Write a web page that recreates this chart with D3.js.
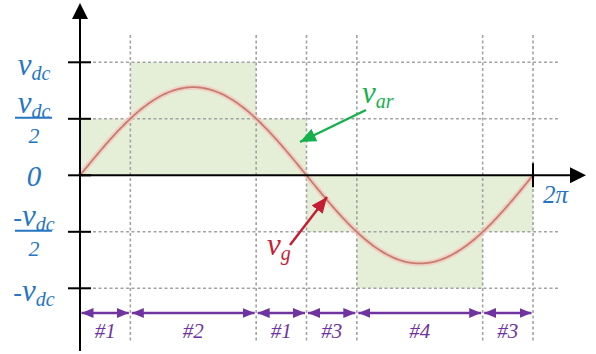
<!DOCTYPE html>
<html>
<head>
<meta charset="utf-8">
<script src="https://cdn.jsdelivr.net/npm/d3@7"></script>
<style>
  html, body { margin: 0; padding: 0; background: #fff; }
  svg { display: block; }
</style>
</head>
<body>
<svg id="chart" width="596" height="354"></svg>
<script>
// Voltage levels, in units of v_dc
const levels = [1, 0.5, 0, -0.5, -1];
// Level labels: sign, main symbol, subscript, denominator
const levelSign  = ["", "", "", "-", "-"];
const levelMain  = ["v", "v", "0", "v", "v"];
const levelSub   = ["dc", "dc", "", "dc", "dc"];
const levelDenom = ["", "2", "", "2", ""];

// Switching-interval boundaries (degrees of the grid period)
const boundaries = [0, 40, 140, 180, 220, 320, 360];
const intervalNames = ["#1", "#2", "#1", "#3", "#4", "#3"];
// Rectifier voltage v_ar held during each interval (units of v_dc)
const intervalLevels = [0.5, 1, 0.5, -0.5, -1, -0.5];

// Grid voltage v_g = A·sin θ, peak in units of v_dc
const vgPeak = 0.78;

const serif = "'Liberation Serif', 'Times New Roman', Times, serif";
const svg = d3.select("#chart")
  .attr("font-family", serif).attr("font-style", "italic");
const x = d3.scaleLinear().domain([0, 360]).range([80, 533]);
const y = d3.scaleLinear().domain([-1, 1]).range([288.3, 62.3]);

const blue = "#2576c2", green = "#16b14c", red = "#c41e34", purple = "#7034a0";

// shaded v_ar steps
svg.append("g").selectAll("rect")
  .data(intervalLevels)
  .join("rect")
  .attr("x", (d, i) => x(boundaries[i]))
  .attr("width", (d, i) => x(boundaries[i + 1]) - x(boundaries[i]))
  .attr("y", d => Math.min(y(d), y(0)))
  .attr("height", d => Math.abs(y(d) - y(0)))
  .attr("fill", "#e5eed6");

// dashed grid
const grid = svg.append("g").attr("stroke", "#a3a3a3").attr("stroke-width", 1.6)
  .attr("stroke-dasharray", "3,2.5").attr("fill", "none");
grid.selectAll("line.h")
  .data(levels.filter(d => d !== 0))
  .join("line").attr("class", "h")
  .attr("x1", x(0) + 2).attr("x2", 558)
  .attr("y1", d => y(d)).attr("y2", d => y(d));
grid.selectAll("line.v")
  .data(boundaries.slice(1))
  .join("line").attr("class", "v")
  .attr("x1", d => x(d)).attr("x2", d => x(d))
  .attr("y1", 35).attr("y2", 342);

// sine wave of the grid voltage
const theta = d3.range(0, 360.5, 1);
const sineLine = d3.line()
  .x(d => x(d))
  .y(d => y(vgPeak * Math.sin(d * Math.PI / 180)))
  .curve(d3.curveBasis);
svg.append("path").datum(theta).attr("d", sineLine)
  .attr("fill", "none").attr("stroke", "#f4c6be").attr("stroke-width", 5.5).attr("stroke-opacity", 0.75);
svg.append("path").datum(theta).attr("d", sineLine)
  .attr("fill", "none").attr("stroke", "#c67d70").attr("stroke-width", 1.8);

// axes
const axes = svg.append("g").attr("stroke", "#000");
axes.append("line").attr("x1", x(0)).attr("x2", 572).attr("y1", y(0)).attr("y2", y(0)).attr("stroke-width", 2);
axes.append("line").attr("x1", x(0)).attr("x2", x(0)).attr("y1", 351).attr("y2", 16).attr("stroke-width", 2);
svg.append("path")
  .attr("d", `M${586},${y(0)} L${570},${y(0) - 8} L${570},${y(0) + 8} Z`).attr("fill", "#000");
svg.append("path")
  .attr("d", `M${x(0)},3 L${x(0) - 8},19 L${x(0) + 8},19 Z`).attr("fill", "#000");
// y ticks
axes.selectAll("line.tick")
  .data(levels)
  .join("line").attr("class", "tick")
  .attr("x1", 68).attr("x2", 91)
  .attr("y1", d => y(d)).attr("y2", d => y(d))
  .attr("stroke-width", 2);
// 2π tick
axes.append("line").attr("x1", x(360)).attr("x2", x(360))
  .attr("y1", y(0) - 12).attr("y2", y(0) + 12).attr("stroke-width", 2);

// level labels
const lab = svg.append("g").attr("fill", blue);
levels.forEach((lv, i) => {
  const cx = 34;
  const frac = levelDenom[i] !== "";
  const base = frac ? y(lv) - 6 : y(lv) + 13;
  const t = lab.append("text").attr("x", cx).attr("y", lv === 0 ? y(lv) + 11 : base)
    .attr("text-anchor", "middle");
  if (levelSign[i]) t.append("tspan").attr("font-size", 26).text(levelSign[i]);
  t.append("tspan").attr("font-size", lv === 0 ? 29 : 31).text(levelMain[i]);
  if (levelSub[i]) t.append("tspan").attr("font-size", 20).attr("dy", 5).text(levelSub[i]);
  if (frac) {
    lab.append("line").attr("x1", 15).attr("x2", 52)
      .attr("y1", y(lv) - 1).attr("y2", y(lv) - 1)
      .attr("stroke", blue).attr("stroke-width", 2);
    lab.append("text").attr("x", cx).attr("y", y(lv) + 24)
      .attr("text-anchor", "middle").attr("font-size", 22).text(levelDenom[i]);
  }
});
svg.append("text").attr("x", 543).attr("y", 203).attr("fill", blue)
  .attr("font-size", 25).text("2π");

// interval arrows
const defs = svg.append("defs");
defs.append("marker").attr("id", "ah").attr("viewBox", "0 0 12 10")
  .attr("refX", 12).attr("refY", 5).attr("markerWidth", 12).attr("markerHeight", 10)
  .attr("markerUnits", "userSpaceOnUse").attr("orient", "auto-start-reverse")
  .append("path").attr("d", "M0,0 L12,5 L0,10 Z").attr("fill", purple);
const arrowY = 313;
const arr = svg.append("g");
arr.selectAll("line")
  .data(intervalNames)
  .join("line")
  .attr("x1", (d, i) => x(boundaries[i]) + 1.5)
  .attr("x2", (d, i) => x(boundaries[i + 1]) - 1.5)
  .attr("y1", arrowY).attr("y2", arrowY)
  .attr("stroke", purple).attr("stroke-width", 2.5)
  .attr("marker-start", "url(#ah)").attr("marker-end", "url(#ah)");
arr.selectAll("text")
  .data(intervalNames)
  .join("text")
  .attr("x", (d, i) => (x(boundaries[i]) + x(boundaries[i + 1])) / 2)
  .attr("y", 338).attr("text-anchor", "middle")
  .attr("font-size", 21).attr("fill", purple).text(d => d);

// v_ar and v_g callouts
defs.append("marker").attr("id", "ag").attr("viewBox", "0 0 14 12")
  .attr("refX", 14).attr("refY", 6).attr("markerWidth", 16).attr("markerHeight", 14)
  .attr("markerUnits", "userSpaceOnUse").attr("orient", "auto")
  .append("path").attr("d", "M0,0 L14,6 L0,12 Z").attr("fill", green);
defs.append("marker").attr("id", "ar").attr("viewBox", "0 0 14 12")
  .attr("refX", 14).attr("refY", 6).attr("markerWidth", 16).attr("markerHeight", 14)
  .attr("markerUnits", "userSpaceOnUse").attr("orient", "auto")
  .append("path").attr("d", "M0,0 L14,6 L0,12 Z").attr("fill", red);

svg.append("line").attr("x1", 366).attr("y1", 110).attr("x2", 300).attr("y2", 142)
  .attr("stroke", green).attr("stroke-width", 2.5).attr("marker-end", "url(#ag)");
const tv = svg.append("text").attr("x", 362).attr("y", 103).attr("fill", green);
tv.append("tspan").attr("font-size", 31).text("v");
tv.append("tspan").attr("font-size", 20).attr("dy", 5).text("ar");

svg.append("line").attr("x1", 290).attr("y1", 245).attr("x2", 327).attr("y2", 197)
  .attr("stroke", red).attr("stroke-width", 2.5).attr("marker-end", "url(#ar)");
const tg = svg.append("text").attr("x", 267).attr("y", 255).attr("fill", red);
tg.append("tspan").attr("font-size", 31).text("v");
tg.append("tspan").attr("font-size", 20).attr("dy", 5).text("g");
</script>
</body>
</html>
